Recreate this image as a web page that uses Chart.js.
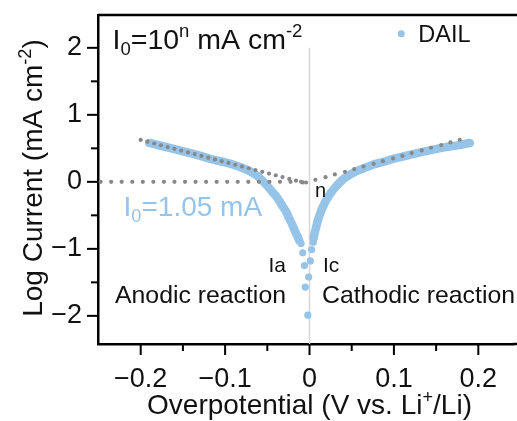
<!DOCTYPE html>
<html>
<head>
<meta charset="utf-8">
<script src="https://cdn.jsdelivr.net/npm/chart.js@4.4.1/dist/chart.umd.min.js"></script>
<style>
  html, body { margin: 0; padding: 0; background: #fff; }
  canvas { display: block; }
</style>
</head>
<body>
<canvas id="tafel" width="517" height="421"></canvas>
<script>
// DAIL branches (drawn as a thick line, the way the dense points look)
const blueLeftX = [-0.190, -0.175, -0.160, -0.145, -0.130, -0.115, -0.100, -0.090, -0.080, -0.070, -0.062, -0.056, -0.050, -0.044, -0.038, -0.033, -0.028, -0.024, -0.020, -0.017, -0.014, -0.012];
const blueLeftY = [0.58, 0.535, 0.488, 0.44, 0.39, 0.335, 0.29, 0.255, 0.21, 0.155, 0.09, 0.02, -0.06, -0.15, -0.24, -0.34, -0.44, -0.55, -0.65, -0.74, -0.82, -0.88];
const blueRightX = [0.005, 0.006, 0.008, 0.010, 0.013, 0.016, 0.020, 0.025, 0.030, 0.035, 0.040, 0.047, 0.055, 0.065, 0.075, 0.088, 0.100, 0.115, 0.130, 0.145, 0.160, 0.175, 0.190];
const blueRightY = [-0.84, -0.77, -0.67, -0.57, -0.46, -0.37, -0.27, -0.17, -0.09, -0.02, 0.04, 0.10, 0.154, 0.205, 0.254, 0.30, 0.345, 0.39, 0.437, 0.478, 0.515, 0.545, 0.58];
// separate points close to 0 V
const blueTailX = [-0.010, -0.008, -0.006, -0.005, -0.002, -0.001, 0.001, 0.0025, 0.0045];
const blueTailY = [-0.92, -1.06, -1.25, -1.57, -1.99, -1.42, -1.18, -1.01, -0.90];

// Tafel fit lines (grey dots)
const fitLeftX = [-0.200, -0.192, -0.184, -0.176, -0.168, -0.160, -0.152, -0.144, -0.136, -0.128, -0.120, -0.112, -0.104, -0.096, -0.088, -0.080, -0.072, -0.064, -0.056, -0.048, -0.040, -0.032, -0.024, -0.016, -0.008];
const fitLeftY = [0.625, 0.599, 0.572, 0.546, 0.519, 0.493, 0.467, 0.440, 0.414, 0.387, 0.361, 0.335, 0.308, 0.282, 0.255, 0.229, 0.203, 0.176, 0.150, 0.123, 0.097, 0.071, 0.044, 0.018, -0.009];
const fitRightX = [-0.004, 0.007, 0.019, 0.030, 0.042, 0.053, 0.064, 0.076, 0.087, 0.099, 0.110, 0.121, 0.133, 0.144, 0.156, 0.167, 0.178];
const fitRightY = [-0.010, 0.030, 0.070, 0.110, 0.150, 0.190, 0.229, 0.269, 0.309, 0.349, 0.389, 0.429, 0.469, 0.509, 0.549, 0.588, 0.628];
const fitZeroX = [-0.2475, -0.235, -0.2225, -0.21, -0.1975, -0.185, -0.1725, -0.16, -0.1475, -0.135, -0.1225, -0.11, -0.0975, -0.085, -0.0725, -0.06, -0.0475, -0.035, -0.0225, -0.01];
const fitZeroY = [0, 0, 0, 0, 0, 0, 0, 0, 0, 0, 0, 0, 0, 0, 0, 0, 0, 0, 0, 0];

// vertical guide at 0 V
const guideX = [0, 0];
const guideY = [2, -2.42];

// axes
const xMajorTicks = [-0.2, -0.1, 0, 0.1, 0.2];
const xMinorTicks = [-0.15, -0.05, 0.05, 0.15];
const yMajorTicks = [-2, -1, 0, 1, 2];
const yMinorTicks = [-1.5, -0.5, 0.5, 1.5];

const FONT = '"Liberation Sans", Arial, Helvetica, sans-serif';
const BLUE = '#96c4e8';
const GREY = '#888888';

const pts = (xs, ys) => xs.map((x, i) => ({ x: x, y: ys[i] }));
const fmt = v => (v < 0 ? '\u2212' + String(Math.abs(v)) : String(v));

// text with sub/superscript parts
function fontOf(size) { return size + 'px ' + FONT; }
function richWidth(ctx, parts, size) {
  let w = 0;
  parts.forEach(p => {
    ctx.font = fontOf(p.sub || p.sup ? size * 0.65 : size);
    w += ctx.measureText(p.t).width;
  });
  return w;
}
function drawRich(ctx, parts, x, y, size, color, align) {
  ctx.save();
  ctx.fillStyle = color;
  ctx.textBaseline = 'alphabetic';
  ctx.textAlign = 'left';
  let cx = align === 'right' ? x - richWidth(ctx, parts, size)
         : align === 'center' ? x - richWidth(ctx, parts, size) / 2 : x;
  parts.forEach(p => {
    const s = p.sub || p.sup ? size * 0.65 : size;
    ctx.font = fontOf(s);
    const dy = p.sub ? size * 0.22 : p.sup ? -size * 0.4 : 0;
    ctx.fillText(p.t, cx, y + dy);
    cx += ctx.measureText(p.t).width;
  });
  ctx.restore();
}

const decor = {
  id: 'decor',
  afterDraw(chart) {
    const ctx = chart.ctx;
    const a = chart.chartArea;
    const xs = chart.scales.x, ys = chart.scales.y;
    const X = v => xs.getPixelForValue(v), Y = v => ys.getPixelForValue(v);

    ctx.save();
    ctx.strokeStyle = '#000';
    ctx.lineWidth = 2.5;
    // top frame line, runs off the right edge like the bottom axis
    ctx.beginPath();
    ctx.moveTo(a.left, a.top);
    ctx.lineTo(chart.width, a.top);
    ctx.stroke();
    ctx.beginPath();
    ctx.moveTo(a.right, a.bottom);
    ctx.lineTo(chart.width, a.bottom);
    ctx.stroke();
    // tick marks
    ctx.lineWidth = 2;
    const tick = (x1, y1, x2, y2) => { ctx.beginPath(); ctx.moveTo(x1, y1); ctx.lineTo(x2, y2); ctx.stroke(); };
    xMajorTicks.forEach(v => tick(X(v), a.bottom, X(v), a.bottom + 11));
    xMinorTicks.forEach(v => tick(X(v), a.bottom, X(v), a.bottom + 7));
    yMajorTicks.forEach(v => tick(a.left, Y(v), a.left - 11, Y(v)));
    yMinorTicks.forEach(v => tick(a.left, Y(v), a.left - 7, Y(v)));
    ctx.restore();

    // axis titles
    drawRich(ctx, [{ t: 'Overpotential (V vs. Li' }, { t: '+', sup: true }, { t: '/Li)' }],
      X(0), 414, 28, '#111', 'center');
    ctx.save();
    ctx.translate(42, 178);
    ctx.rotate(-Math.PI / 2);
    drawRich(ctx, [{ t: 'Log Current (mA cm' }, { t: '-2', sup: true }, { t: ')' }], 0, 0, 28, '#111', 'center');
    ctx.restore();

    // annotations
    drawRich(ctx, [{ t: 'I' }, { t: '0', sub: true }, { t: '=10' }, { t: 'n', sup: true }, { t: ' mA cm' }, { t: '-2', sup: true }],
      X(-0.2334), Y(1.985), 28.5, '#111', 'left');
    drawRich(ctx, [{ t: 'I' }, { t: '0', sub: true }, { t: '=1.05 mA' }], X(-0.2203), Y(-0.507), 28, BLUE, 'left');
    drawRich(ctx, [{ t: 'n' }], X(0.0065), Y(-0.224), 20, '#111', 'left');
    drawRich(ctx, [{ t: 'Ia' }], X(-0.0279), Y(-1.343), 21, '#111', 'right');
    drawRich(ctx, [{ t: 'Ic' }], X(0.016), Y(-1.343), 21, '#111', 'left');
    drawRich(ctx, [{ t: 'Anodic reaction' }], X(-0.0279), Y(-1.806), 24.8, '#111', 'right');
    drawRich(ctx, [{ t: 'Cathodic reaction' }], X(0.0148), Y(-1.806), 24.8, '#111', 'left');

    // legend
    ctx.save();
    ctx.fillStyle = BLUE;
    ctx.beginPath();
    ctx.arc(X(0.1087), Y(2.209), 3.5, 0, Math.PI * 2);
    ctx.fill();
    ctx.restore();
    drawRich(ctx, [{ t: chart.data.datasets[0].label }], X(0.1289), Y(2.09), 23.5, '#111', 'left');
  }
};

const ctx = document.getElementById('tafel').getContext('2d');
const chart = new Chart(ctx, {
  type: 'scatter',
  data: {
    datasets: [
      { label: 'DAIL', data: pts(blueLeftX, blueLeftY), showLine: true, borderColor: BLUE, borderWidth: 8.5,
        borderCapStyle: 'round', borderJoinStyle: 'round', cubicInterpolationMode: 'monotone', pointRadius: 0, order: 2 },
      { label: 'DAIL right', data: pts(blueRightX, blueRightY), showLine: true, borderColor: BLUE, borderWidth: 8.5,
        borderCapStyle: 'round', borderJoinStyle: 'round', cubicInterpolationMode: 'monotone', pointRadius: 0, order: 2 },
      { label: 'DAIL tail', data: pts(blueTailX, blueTailY), backgroundColor: BLUE, borderWidth: 0, pointRadius: 3.6, order: 2 },
      { label: 'fit left', data: pts(fitLeftX, fitLeftY), backgroundColor: GREY, borderWidth: 0, pointRadius: 2.1, order: 0 },
      { label: 'fit right', data: pts(fitRightX, fitRightY), backgroundColor: GREY, borderWidth: 0, pointRadius: 2.1, order: 0 },
      { label: 'fit zero', data: pts(fitZeroX, fitZeroY), backgroundColor: GREY, borderWidth: 0, pointRadius: 2.1, order: 0 },
      { label: 'guide', data: pts(guideX, guideY), showLine: true, borderColor: '#d6d6d6', borderWidth: 1.5, pointRadius: 0, order: 3 }
    ]
  },
  options: {
    responsive: false,
    animation: false,
    devicePixelRatio: 1,
    layout: { padding: { top: 15, right: 0, left: 0, bottom: 0 } },
    plugins: { legend: { display: false }, tooltip: { enabled: false } },
    scales: {
      x: {
        type: 'linear',
        // Chart.js keeps a few px on the right; max is set so 0.1 V still spans ~84 px
        min: -0.2506,
        max: 0.2411,
        afterFit: s => { s.height = 77; s.paddingLeft = 0; s.paddingRight = 0; },
        afterBuildTicks: s => { s.ticks = xMajorTicks.map(v => ({ value: v })); },
        grid: { display: false },
        border: { display: true, color: '#000', width: 2.5 },
        ticks: { callback: v => fmt(v), color: '#111', font: { family: FONT, size: 27 }, padding: 11, maxRotation: 0 }
      },
      y: {
        type: 'linear',
        min: -2.42,
        max: 2.49,
        afterFit: s => { s.width = 98; s.paddingTop = 0; s.paddingBottom = 0; },
        afterBuildTicks: s => { s.ticks = yMajorTicks.map(v => ({ value: v })); },
        grid: { display: false },
        border: { display: true, color: '#000', width: 2.5 },
        ticks: { callback: v => fmt(v), color: '#111', font: { family: FONT, size: 27 }, padding: 8 }
      }
    }
  },
  plugins: [decor]
});
</script>
</body>
</html>
